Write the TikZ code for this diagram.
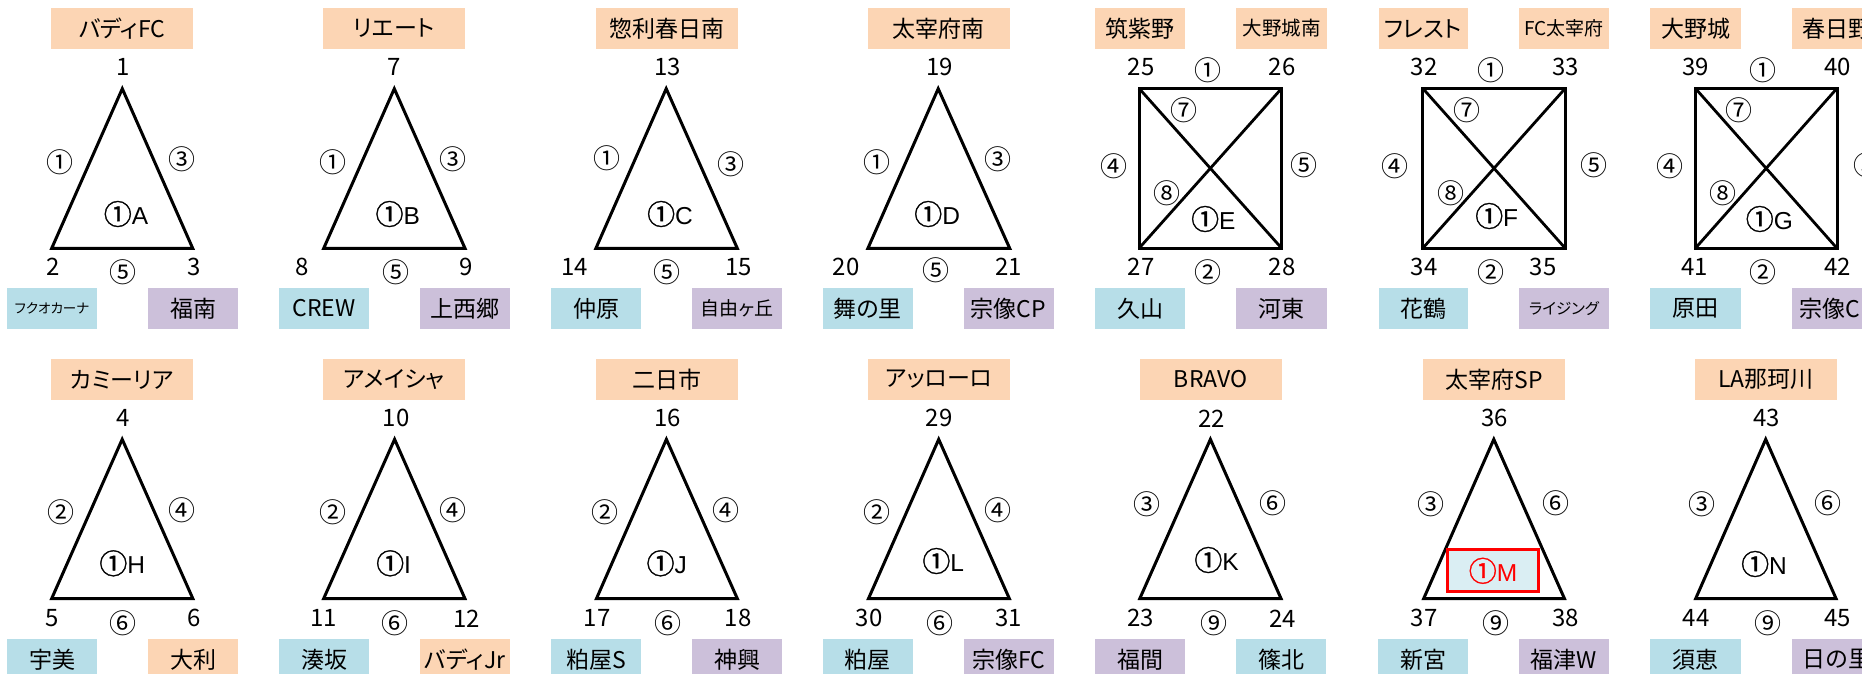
\documentclass[tikz,border=0pt]{standalone}
\usepackage{fontspec}
\setmainfont{Liberation Sans}
\newfontfamily\cjk[RawFeature=+palt]{Noto Sans CJK JP}
\newfontfamily\cjkn{Noto Sans CJK JP}
\newfontfamily\cjkc[FakeBold=1.3]{Noto Sans CJK JP}
\definecolor{hdrC}{HTML}{FCD5B4}
\definecolor{bluC}{HTML}{B7DEE8}
\definecolor{purC}{HTML}{CCC0DA}
\definecolor{mFill}{HTML}{DAEEF3}
\tikzset{
  box/.style={inner sep=0pt, minimum height=41, minimum width=90, font=\cjk\fontsize{23}{27}\selectfont},
  hbox/.style={box, fill=hdrC, minimum width=142},
  obox/.style={box, fill=hdrC},
  bbox/.style={box, fill=bluC},
  pbox/.style={box, fill=purC},
  num/.style={inner sep=0pt, font=\cjkn\fontsize{24}{28}\selectfont},
  circ/.style={inner sep=0pt, font=\cjkn\fontsize{27}{30}\selectfont},
  ctr/.style={inner sep=0pt, font=\fontsize{24.5}{28}\selectfont},
  shp/.style={line width=3pt, line join=miter},
  diag/.style={line width=2.8pt},
}
\newcommand{\cl}[1]{{\cjkc\fontsize{28}{30}\selectfont #1}}
\begin{document}
\begin{tikzpicture}[x=1pt,y=-1pt]
\fill[white] (0,0) rectangle (1862,673);
\useasboundingbox (0,0) rectangle (1862,673);

% ================= TOP ROW =================
% ---- A ----
\node[hbox] (hA) at (122,28.5) {バディFC};
\coordinate (A1) at (122.3,88.7); \coordinate (A2) at (51.7,248.3); \coordinate (A3) at (192.7,248.3);
\draw[shp] (A1) -- (A2) -- (A3) -- cycle;
\node[num] (nA1) at (123,67) {1};
\node[num] (nA2) at (52.7,267) {2};
\node[num] (nA3) at (193.7,267) {3};
\node[circ] (eA1) at (60,162) {①};
\node[circ] (eA2) at (182,159) {③};
\node[circ] (eA3) at (123,272) {⑤};
\node[ctr] (cA) at (126,214) {\cl{①}A};
\node[bbox, font=\cjk\fontsize{13.5}{16}\selectfont] (tA1) at (52,308.5) {フクオカーナ};
\node[pbox] (tA2) at (193,308.5) {福南};

% ---- B ----
\node[hbox] (hB) at (394,28.5) {リエート};
\coordinate (B1) at (394.3,88.7); \coordinate (B2) at (323.7,248.3); \coordinate (B3) at (465,248.3);
\draw[shp] (B1) -- (B2) -- (B3) -- cycle;
\node[num] (nB1) at (394.3,67) {7};
\node[num] (nB2) at (302.3,267) {8};
\node[num] (nB3) at (465.7,267) {9};
\node[circ] (eB1) at (332.7,162) {①};
\node[circ] (eB2) at (453.3,159) {③};
\node[circ] (eB3) at (395.7,272) {⑤};
\node[ctr] (cB) at (397.7,214) {\cl{①}B};
\node[bbox] (tB1) at (324,308.5) {CREW};
\node[pbox] (tB2) at (465,308.5) {上西郷};

% ---- C ----
\node[hbox] (hC) at (666.8,28.5) {惣利春日南};
\coordinate (C1) at (666.2,88.7); \coordinate (C2) at (595.9,248.3); \coordinate (C3) at (737.3,248.3);
\draw[shp] (C1) -- (C2) -- (C3) -- cycle;
\node[num] (nC1) at (667.4,67) {13};
\node[num] (nC2) at (574.4,267) {14};
\node[num] (nC3) at (738.5,267) {15};
\node[circ] (eC1) at (606.8,158) {①};
\node[circ] (eC2) at (731,164) {③};
\node[circ] (eC3) at (667,272) {⑤};
\node[ctr] (cC) at (670,214) {\cl{①}C};
\node[bbox] (tC1) at (596,308.5) {仲原};
\node[pbox, font=\cjk\fontsize{19}{23}\selectfont] (tC2) at (737,308.5) {自由ヶ丘};

% ---- D ----
\node[hbox] (hD) at (938.8,28.5) {太宰府南};
\coordinate (D1) at (938.2,88.7); \coordinate (D2) at (867.9,248.3); \coordinate (D3) at (1009.7,248.3);
\draw[shp] (D1) -- (D2) -- (D3) -- cycle;
\node[num] (nD1) at (939.4,67) {19};
\node[num] (nD2) at (846,267) {20};
\node[num] (nD3) at (1008.6,267) {21};
\node[circ] (eD1) at (876.5,162) {①};
\node[circ] (eD2) at (997.7,159) {③};
\node[circ] (eD3) at (936.4,270) {⑤};
\node[ctr] (cD) at (937.1,214) {\cl{①}D};
\node[bbox] (tD1) at (867.5,308.5) {舞の里};
\node[pbox] (tD2) at (1008.6,308.5) {宗像CP};

% ---- E ----
\node[obox] (hE1) at (1140,28.5) {筑紫野};
\node[obox, minimum width=91, font=\cjk\fontsize{19.5}{23}\selectfont] (hE2) at (1281.5,28.5) {大野城南};
\coordinate (E1) at (1139,88.3); \coordinate (E2) at (1281.7,88.3);
\coordinate (E3) at (1281.7,248.3); \coordinate (E4) at (1139,248.3);
\draw[shp] (E1) -- (E2) -- (E3) -- (E4) -- cycle;
\draw[diag] (E1) -- (E3);
\draw[diag] (E2) -- (E4);
\node[num] (nE1) at (1141,67) {25};
\node[num] (nE2) at (1282.3,67) {26};
\node[num] (nE3) at (1141,267) {27};
\node[num] (nE4) at (1282.3,267) {28};
\node[circ] (eE1) at (1208,70) {①};
\node[circ] (eE2) at (1208,272) {②};
\node[circ] (eE4) at (1114.3,166) {④};
\node[circ] (eE5) at (1303.7,165) {⑤};
\node[circ] (eE7) at (1184.3,110) {⑦};
\node[circ] (eE8) at (1167.3,193) {⑧};
\node[ctr] (cE) at (1213.3,219) {\cl{①}E};
\node[bbox] (tE1) at (1140,308.5) {久山};
\node[pbox, minimum width=91] (tE2) at (1281.5,308.5) {河東};

% ---- F ----
\node[obox, minimum width=89] (hF1) at (1423,28.5) {フレスト};
\node[obox, font=\cjk\fontsize{19}{23}\selectfont] (hF2) at (1564,28.5) {FC太宰府};
\coordinate (F1) at (1422.7,88.3); \coordinate (F2) at (1565.3,88.3);
\coordinate (F3) at (1565.3,248.3); \coordinate (F4) at (1422.7,248.3);
\draw[shp] (F1) -- (F2) -- (F3) -- (F4) -- cycle;
\draw[diag] (F1) -- (F3);
\draw[diag] (F2) -- (F4);
\node[num] (nF1) at (1424,67) {32};
\node[num] (nF2) at (1565.3,67) {33};
\node[num] (nF3) at (1424,267) {34};
\node[num] (nF4) at (1543,267) {35};
\node[circ] (eF1) at (1490.7,70) {①};
\node[circ] (eF2) at (1490.7,272) {②};
\node[circ] (eF4) at (1394.7,166) {④};
\node[circ] (eF5) at (1594.3,165) {⑤};
\node[circ] (eF7) at (1467.3,110) {⑦};
\node[circ] (eF8) at (1450.7,193) {⑧};
\node[ctr] (cF) at (1496.7,216) {\cl{①}F};
\node[bbox, minimum width=89] (tF1) at (1423,308.5) {花鶴};
\node[pbox, font=\cjk\fontsize{15.5}{19}\selectfont] (tF2) at (1564,308.5) {ライジング};

% ---- G ----
\node[obox, minimum width=91] (hG1) at (1695.5,28.5) {大野城};
\node[obox] (hG2) at (1837,28.5) {春日野};
\coordinate (G1) at (1695.3,88.3); \coordinate (G2) at (1837,88.3);
\coordinate (G3) at (1837,248.3); \coordinate (G4) at (1695.3,248.3);
\draw[shp] (G1) -- (G2) -- (G3) -- (G4) -- cycle;
\draw[diag] (G1) -- (G3);
\draw[diag] (G2) -- (G4);
\node[num] (nG1) at (1695.7,67) {39};
\node[num] (nG2) at (1837.3,67) {40};
\node[num] (nG3) at (1694.7,267) {41};
\node[num] (nG4) at (1837.7,267) {42};
\node[circ] (eG1) at (1763,70) {①};
\node[circ] (eG2) at (1763,272) {②};
\node[circ] (eG4) at (1669.7,166) {④};
\node[circ] (eG5) at (1867,165) {⑤};
\node[circ] (eG7) at (1739.3,110) {⑦};
\node[circ] (eG8) at (1723,193) {⑧};
\node[ctr] (cG) at (1769.3,219) {\cl{①}G};
\node[bbox, minimum width=91] (tG1) at (1695.5,308.5) {原田};
\node[pbox] (tG2) at (1837,308.5) {宗像CP};

% ================= BOTTOM ROW =================
% ---- H ----
\node[hbox] (hH) at (122,379.5) {カミーリア};
\coordinate (H1) at (122.2,439.3); \coordinate (H2) at (51.7,598.5); \coordinate (H3) at (192.8,598.5);
\draw[shp] (H1) -- (H2) -- (H3) -- cycle;
\node[num] (nH1) at (123.3,418.3) {4};
\node[num] (nH2) at (52.3,618.3) {5};
\node[num] (nH3) at (193.9,618.3) {6};
\node[circ] (eH1) at (60.6,512.7) {②};
\node[circ] (eH2) at (181.5,510.7) {④};
\node[circ] (eH3) at (122.9,623.3) {⑥};
\node[ctr] (cH) at (122.2,563.3) {\cl{①}H};
\node[bbox] (tH1) at (52,659.5) {宇美};
\node[obox] (tH2) at (193,659.5) {大利};

% ---- I ----
\node[hbox] (hI) at (394,379.5) {アメイシャ};
\coordinate (I1) at (394.6,439.3); \coordinate (I2) at (323.7,598.5); \coordinate (I3) at (464.9,598.5);
\draw[shp] (I1) -- (I2) -- (I3) -- cycle;
\node[num] (nI1) at (396,418.3) {10};
\node[num] (nI2) at (323.7,618.3) {11};
\node[num] (nI3) at (466.6,618.3) {12};
\node[circ] (eI1) at (332.6,512.7) {②};
\node[circ] (eI2) at (452.8,510.7) {④};
\node[circ] (eI3) at (395.3,623.3) {⑥};
\node[ctr] (cI) at (393.6,563.3) {\cl{①}I};
\node[bbox] (tI1) at (324,659.5) {湊坂};
\node[obox] (tI2) at (465,659.5) {バディJr};

% ---- J ----
\node[hbox] (hJ) at (666.8,379.5) {二日市};
\coordinate (J1) at (666.4,439.3); \coordinate (J2) at (596.5,598.5); \coordinate (J3) at (737.3,598.5);
\draw[shp] (J1) -- (J2) -- (J3) -- cycle;
\node[num] (nJ1) at (667.7,418.3) {16};
\node[num] (nJ2) at (597.1,618.3) {17};
\node[num] (nJ3) at (738.3,618.3) {18};
\node[circ] (eJ1) at (605.1,512.7) {②};
\node[circ] (eJ2) at (725.6,510.7) {④};
\node[circ] (eJ3) at (667.7,623.3) {⑥};
\node[ctr] (cJ) at (666.7,563.3) {\cl{①}J};
\node[bbox] (tJ1) at (596,659.5) {粕屋S};
\node[pbox] (tJ2) at (737,659.5) {神興};

% ---- L ----
\node[hbox] (hL) at (938.8,379.5) {アッローロ};
\coordinate (L1) at (938.7,439.3); \coordinate (L2) at (868.5,598.5); \coordinate (L3) at (1009.3,598.5);
\draw[shp] (L1) -- (L2) -- (L3) -- cycle;
\node[num] (nL1) at (939,418.3) {29};
\node[num] (nL2) at (869.2,618.3) {30};
\node[num] (nL3) at (1008.7,618.3) {31};
\node[circ] (eL1) at (876.8,512.7) {②};
\node[circ] (eL2) at (997.6,510.7) {④};
\node[circ] (eL3) at (939.8,623.3) {⑥};
\node[ctr] (cL) at (943.2,561) {\cl{①}L};
\node[bbox] (tL1) at (867.5,659.5) {粕屋};
\node[pbox] (tL2) at (1008.6,659.5) {宗像FC};

% ---- K ----
\node[hbox] (hK) at (1210.6,379.5) {BRAVO};
\coordinate (K1) at (1210.4,439.3); \coordinate (K2) at (1139.8,598.5); \coordinate (K3) at (1281,598.5);
\draw[shp] (K1) -- (K2) -- (K3) -- cycle;
\node[num] (nK1) at (1211.9,418.3) {22};
\node[num] (nK2) at (1140.8,618.3) {23};
\node[num] (nK3) at (1282.5,618.3) {24};
\node[circ] (eK1) at (1147,504.3) {③};
\node[circ] (eK2) at (1273.3,503.3) {⑥};
\node[circ] (eK3) at (1213.5,623.3) {⑨};
\node[ctr] (cK) at (1216.5,560) {\cl{①}K};
\node[pbox] (tK1) at (1140,659.5) {福間};
\node[bbox] (tK2) at (1281.3,659.5) {篠北};

% ---- M ----
\node[hbox] (hM) at (1494,379.5) {太宰府SP};
\coordinate (M1) at (1493.8,439.3); \coordinate (M2) at (1423.7,598.5); \coordinate (M3) at (1564.4,598.5);
\draw[shp] (M1) -- (M2) -- (M3) -- cycle;
\node[num] (nM1) at (1494.8,418.3) {36};
\node[num] (nM2) at (1424.2,618.3) {37};
\node[num] (nM3) at (1565.4,618.3) {38};
\node[circ] (eM1) at (1430.8,504.3) {③};
\node[circ] (eM2) at (1556.2,503.3) {⑥};
\node[circ] (eM3) at (1496.3,623.3) {⑨};
\node[ctr, draw=red, line width=2.8pt, fill=mFill, text=red, minimum width=91, minimum height=42] (cM) at (1493,570.8) {\cl{①}M};
\node[bbox] (tM1) at (1423,659.5) {新宮};
\node[pbox] (tM2) at (1564,659.5) {福津W};

% ---- N ----
\node[hbox] (hN) at (1766,379.5) {LA那珂川};
\coordinate (N1) at (1765.7,439.3); \coordinate (N2) at (1695.7,598.5); \coordinate (N3) at (1836,598.5);
\draw[shp] (N1) -- (N2) -- (N3) -- cycle;
\node[num] (nN1) at (1766.7,418.3) {43};
\node[num] (nN2) at (1696,618.3) {44};
\node[num] (nN3) at (1837.3,618.3) {45};
\node[circ] (eN1) at (1701.7,504.3) {③};
\node[circ] (eN2) at (1828.3,503.3) {⑥};
\node[circ] (eN3) at (1768.3,623.3) {⑨};
\node[ctr] (cN) at (1764,564) {\cl{①}N};
\node[bbox, minimum width=91] (tN1) at (1695.5,659.5) {須恵};
\node[pbox] (tN2) at (1837,659.5) {日の里};
\end{tikzpicture}
\end{document}
